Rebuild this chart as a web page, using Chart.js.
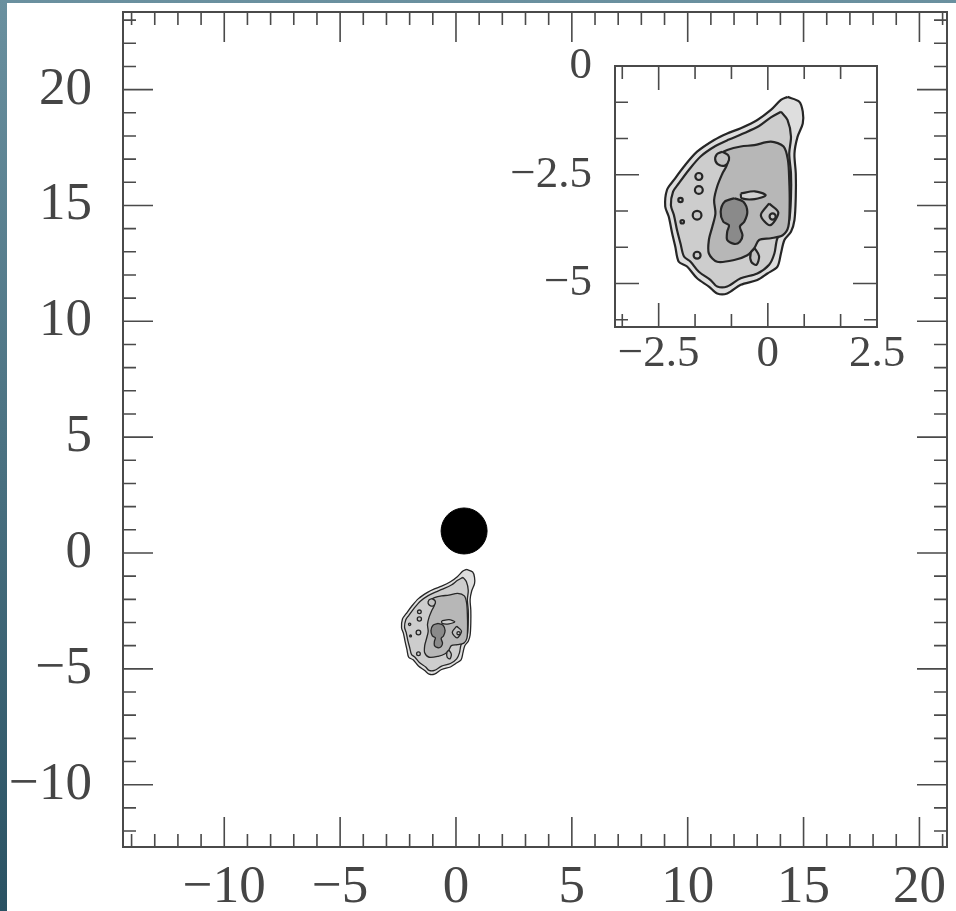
<!DOCTYPE html>
<html>
<head>
<meta charset="utf-8">
<title>Contour map with inset</title>
<script src="https://cdn.jsdelivr.net/npm/chart.js@4.4.1/dist/chart.umd.min.js"></script>
<style>
  html, body { margin: 0; padding: 0; }
  body {
    width: 956px; height: 911px; overflow: hidden; position: relative;
    background: linear-gradient(to bottom, #6a909f, #2a5263);
  }
  #panel { position: absolute; left: 7px; top: 3px; width: 949px; height: 908px; background: #fff; }
  #main { position: absolute; left: 0; top: 0; }
  #inset { position: absolute; left: 498px; top: 22px; }
</style>
</head>
<body>
<div id="panel">
  <canvas id="main" width="949" height="908"></canvas>
  <canvas id="inset" width="420" height="370"></canvas>
</div>
<script>
// axis ranges
var mainX = [-14.37, 21.19];
var mainY = [-12.69, 23.35];
var insetX = [-3.5, 2.5];
var insetY = [-6, 0];

// tick steps: [minor, labelled]
var mainTicks = [1, 5];
var insetTicks = [2.5 / 3, 2.5];

// compact source (black disc)
var sourceX = [0.35];
var sourceY = [0.95];

// contour levels, outermost first
var level1X = [0.45, 0.72, 0.80, 0.80, 0.68, 0.61, 0.64, 0.64, 0.61, 0.53, 0.38, 0.30, 0.22, -0.01, -0.24, -0.62, -0.93, -1.16, -1.35, -1.62, -1.85, -2.04, -2.12, -2.19, -2.27, -2.35, -2.31, -2.15, -1.92, -1.62, -1.23, -0.93, -0.62, -0.24, 0.07, 0.30];
var level1Y = [-0.71, -0.82, -1.05, -1.32, -1.63, -2.01, -2.47, -3.00, -3.54, -3.81, -4.00, -4.31, -4.61, -4.77, -4.92, -5.03, -5.23, -5.23, -5.07, -4.88, -4.61, -4.50, -4.15, -3.85, -3.46, -3.23, -2.85, -2.62, -2.31, -1.97, -1.70, -1.55, -1.43, -1.24, -1.01, -0.78];

var level2X = [0.30, 0.45, 0.53, 0.49, 0.53, 0.53, 0.49, 0.38, 0.22, 0.15, 0.03, -0.24, -0.62, -0.93, -1.16, -1.31, -1.58, -1.77, -1.92, -2.00, -2.08, -2.15, -2.22, -2.17, -2.04, -1.81, -1.54, -1.20, -0.89, -0.58, -0.20, 0.07];
var level2Y = [-1.05, -1.24, -1.62, -2.01, -2.47, -3.00, -3.54, -3.77, -3.96, -4.31, -4.57, -4.77, -4.88, -5.07, -5.07, -4.92, -4.73, -4.50, -4.38, -4.08, -3.77, -3.43, -3.20, -2.89, -2.70, -2.39, -2.08, -1.84, -1.69, -1.56, -1.38, -1.18];

var level3X = [-1.16, -0.93, -0.62, -0.31, 0.07, 0.36, 0.46, 0.49, 0.50, 0.47, 0.34, 0.07, -0.20, -0.31, -0.47, -0.77, -1.16, -1.35, -1.35, -1.27, -1.20, -1.23, -1.16, -1.04, -0.93, -1.08];
var level3Y = [-2.05, -1.93, -1.85, -1.82, -1.74, -1.85, -2.16, -2.62, -3.16, -3.69, -3.89, -3.96, -4.00, -4.19, -4.35, -4.46, -4.50, -4.31, -4.00, -3.69, -3.39, -3.08, -2.77, -2.47, -2.24, -2.08];

var level4X = [-0.77, -0.56, -0.47, -0.54, -0.64, -0.58, -0.64, -0.77, -0.93, -0.93, -0.89, -1.02, -1.08, -0.99];
var level4Y = [-3.04, -3.12, -3.35, -3.58, -3.69, -3.89, -4.04, -4.09, -4.00, -3.81, -3.66, -3.58, -3.35, -3.12];

// small closed contours
var loopAX = [-1.04, -0.91, -0.89, -0.97, -1.10, -1.20, -1.17];
var loopAY = [-1.97, -2.05, -2.16, -2.28, -2.28, -2.18, -2.03];
var loopBX = [0.03, 0.24, 0.05, -0.16];
var loopBY = [-3.16, -3.37, -3.66, -3.43];
var loopCX = [-0.30, -0.20, -0.26, -0.38, -0.39];
var loopCY = [-4.19, -4.37, -4.57, -4.50, -4.29];
var loopDX = [-0.62, -0.30, -0.05, -0.30, -0.60];
var loopDY = [-2.93, -2.88, -2.97, -3.06, -3.04];

// tiny islands: centre and radius in data units
var islandX = [-1.58, -1.58, -1.62, -2.00, -1.96, 0.11, -1.62];
var islandY = [-2.54, -2.85, -3.43, -3.08, -3.58, -3.46, -4.35];
var islandR = [0.08, 0.09, 0.10, 0.05, 0.04, 0.07, 0.08];

var FONT = 'Liberation Serif, Times New Roman, serif';
var INK = '#262626';

function isMajor(v, step) {
  var q = v / step;
  return Math.abs(q - Math.round(q)) < 1e-6;
}

function stepValues(min, max, step) {
  var out = [];
  for (var k = Math.ceil(min / step - 1e-6); k * step <= max + 1e-6; k++) out.push(k * step);
  return out;
}

// frame with inward ticks on all four sides
var frameTicks = {
  id: 'frameTicks',
  afterDatasetsDraw: function (chart, args, o) {
    var ctx = chart.ctx, a = chart.chartArea;
    var xs = chart.scales.x, ys = chart.scales.y;
    ctx.save();
    ctx.strokeStyle = o.color;
    ctx.lineWidth = o.tickWidth;
    ctx.beginPath();
    stepValues(xs.min, xs.max, o.minor).forEach(function (v) {
      var p = xs.getPixelForValue(v);
      var len = isMajor(v, o.major) ? o.majorLen : o.minorLen;
      ctx.moveTo(p, a.bottom); ctx.lineTo(p, a.bottom - len);
      ctx.moveTo(p, a.top); ctx.lineTo(p, a.top + len);
    });
    stepValues(ys.min, ys.max, o.minor).forEach(function (v) {
      var p = ys.getPixelForValue(v);
      var len = isMajor(v, o.major) ? o.majorLen : o.minorLen;
      ctx.moveTo(a.left, p); ctx.lineTo(a.left + len, p);
      ctx.moveTo(a.right, p); ctx.lineTo(a.right - len, p);
    });
    ctx.stroke();
    ctx.lineWidth = o.frameWidth;
    ctx.strokeRect(a.left, a.top, a.right - a.left, a.bottom - a.top);
    ctx.restore();
  }
};

function zip(xs, ys) {
  return xs.map(function (x, i) { return { x: x, y: ys[i] }; });
}

function shape(xs, ys, fillColor, lw, order) {
  var data = zip(xs, ys);
  data.push(data[0]);
  return {
    data: data, showLine: true, fill: 'shape', tension: 0.3,
    backgroundColor: fillColor, borderColor: INK, borderWidth: lw,
    pointRadius: 0, order: order
  };
}

function unitPx(chart) {
  var x = chart.scales.x;
  return Math.abs(x.getPixelForValue(1) - x.getPixelForValue(0));
}

function contourSets(lw) {
  return [
    shape(level1X, level1Y, '#dedede', lw, 7),
    shape(level2X, level2Y, '#cdcdcd', lw, 6),
    shape(level3X, level3Y, '#b7b7b7', lw, 5),
    shape(loopAX, loopAY, '#c2c2c2', lw, 4),
    shape(loopBX, loopBY, '#c2c2c2', lw, 4),
    shape(loopCX, loopCY, '#c2c2c2', lw, 4),
    shape(loopDX, loopDY, '#d0d0d0', lw, 4),
    shape(level4X, level4Y, '#8a8a8a', lw, 3),
    {
      data: islandX.map(function (x, i) { return { x: x, y: islandY[i], r: islandR[i] }; }),
      pointRadius: function (c) { return c.raw ? c.raw.r * unitPx(c.chart) : 0; },
      pointBackgroundColor: '#c8c8c8', pointBorderColor: INK, pointBorderWidth: lw,
      showLine: false, order: 2
    }
  ];
}

function tickLabel(step) {
  return function (v) {
    return isMajor(v, step) ? String(+v.toFixed(2)).replace('-', '\u2212') : '';
  };
}

function axes(xr, yr, step, fontSize, yPad, xPad, yWidth, xHeight) {
  var common = {
    type: 'linear', grid: { display: false, drawTicks: false }, border: { display: false }
  };
  return {
    x: Object.assign({}, common, {
      min: xr[0], max: xr[1],
      ticks: {
        stepSize: step, includeBounds: false, autoSkip: false, maxRotation: 0,
        padding: xPad, color: '#454545', callback: tickLabel(step),
        font: { family: FONT, size: fontSize, lineHeight: 1 }
      },
      afterFit: function (s) { s.height = xHeight; s.paddingLeft = 0; s.paddingRight = 0; }
    }),
    y: Object.assign({}, common, {
      min: yr[0], max: yr[1],
      ticks: {
        stepSize: step, includeBounds: false, autoSkip: false,
        padding: yPad, color: '#454545', callback: tickLabel(step),
        font: { family: FONT, size: fontSize, lineHeight: 1 }
      },
      afterFit: function (s) { s.width = yWidth; s.paddingTop = 0; s.paddingBottom = 0; }
    })
  };
}

var mainSets = contourSets(1.3);
mainSets.push({
  data: zip(sourceX, sourceY), pointRadius: 23,
  pointBackgroundColor: '#000', pointBorderColor: '#000', showLine: false, order: 1
});

new Chart(document.getElementById('main'), {
  type: 'scatter',
  data: { datasets: mainSets },
  options: {
    responsive: false, animation: false, events: [],
    layout: { autoPadding: false, padding: { top: 9, right: 9, left: 0, bottom: 0 } },
    plugins: {
      legend: { display: false }, tooltip: { enabled: false },
      frameTicks: { minor: mainTicks[0], major: mainTicks[1], majorLen: 30, minorLen: 13, tickWidth: 1.6, frameWidth: 2, color: '#4a4a4a' }
    },
    scales: axes(mainX, mainY, mainTicks[1], 53, 31, 15, 116, 64)
  },
  plugins: [frameTicks]
});

new Chart(document.getElementById('inset'), {
  type: 'scatter',
  data: { datasets: contourSets(2.2) },
  options: {
    responsive: false, animation: false, events: [],
    layout: { autoPadding: false, padding: { top: 41, right: 48, left: 0, bottom: 0 } },
    plugins: {
      legend: { display: false }, tooltip: { enabled: false },
      frameTicks: { minor: insetTicks[0], major: insetTicks[1], majorLen: 24, minorLen: 13, tickWidth: 1.6, frameWidth: 2, color: '#4a4a4a' }
    },
    scales: axes(insetX, insetY, insetTicks[1], 45, 23, 5, 110, 68)
  },
  plugins: [frameTicks]
});
</script>
</body>
</html>
